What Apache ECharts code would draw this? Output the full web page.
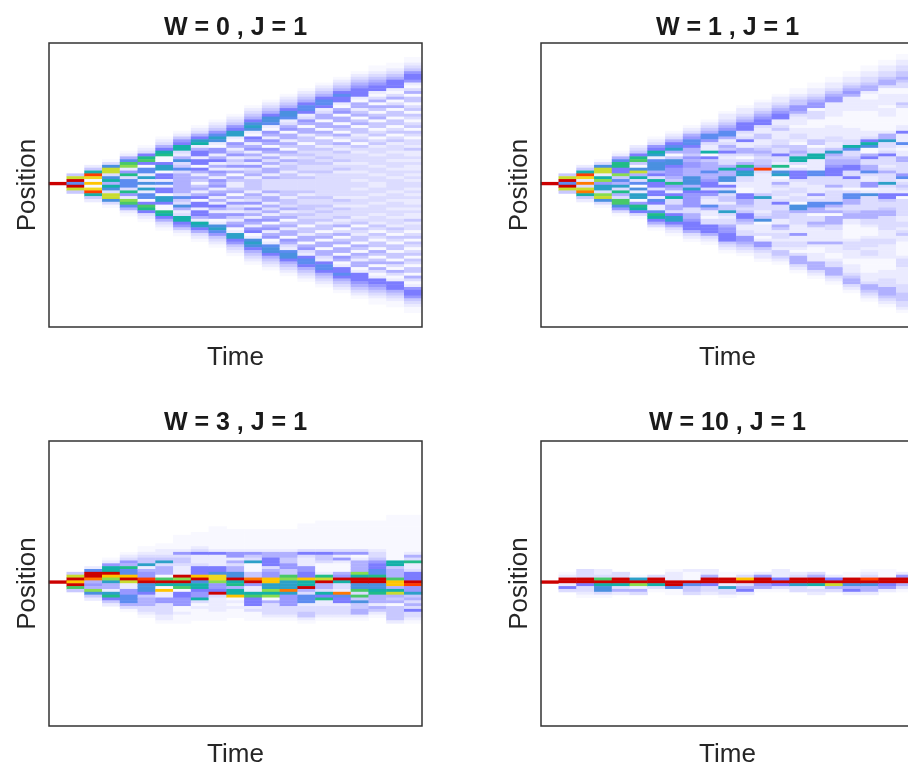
<!DOCTYPE html>
<html><head><meta charset="utf-8">
<script src="https://cdn.jsdelivr.net/npm/echarts@6/dist/echarts.min.js"></script>
<style>html,body{margin:0;padding:0;background:#fff}#c{width:908px;height:765px}</style></head>
<body><div id="c"></div>
<script>
// Each column (time step) reads "firstRow: intensity levels", top row of the panel first.
const W0 = [
"49:k",
"46:4fk8kf4",
"43:24bjg1h1gjb42",
"41:139ff39b5b93ff931",
"38:1258de26c38883c62ed8521",
"36:1237cd7188 2a2 9 2a2 88 17dc7321",
"33:12357bc11 7aa1 772 8 2771 aa7 11cb75321",
"31:124 67bb3 25934 83555 5 55538 43952 3bb76 421",
"29:1235 7ab2 5772 7717 5254 1 4525 7177 2775 2ba7 5321",
"27:1234 68a9 2166 2572 5265 26 5 62 5625 2752 6612 9a86 4321",
"25:123467aa21652462436 25154 22 45152 6342642561 2aa764321",
"22:12345 79a92 17625 62536 26345 24 44 42 54362 63526 52671 29a97 54321",
"20:123457998 21652 65165 25352 55253 33 35255 25352 56156 25612 899754321",
"18:123457998 23561 55254 15425 34424 43 33 34 42443 52451 45255 16532 899754321",
"16:123457887 23651 55244 14434 34433 4243 33 3424 33443 43441 44255 15632 788754321",
"14:123457887 23551 55154 14424 33434 33433 3 33 33343 34343 34244 14515 51553 2 788754321",
"12:123457877 21561 55154 15315 32433 42342 333 33 33324 32433 42351 35145 15516 512 778754321",
"10:123456777 21552 45145 14423 41432 33323 32332 33 23323 32333 23414 32441 54154 25512 777654321",
"8:112345677 21351 54145 14413 41342 33233 32332 33 22 33233 23332 33243 14314 41541 45153 12 776543211",
"7:112345777 21351 35144 14413 41342 33233 23323 323 33 32332 33233 23324 31431 44144 15315 312 777543211",
"5:112346776 21351 44134 14313 41431 33242 23232 23232 33 23232 23232 24233 13414 31341 43144 15312 677643211"
];
const W1 = [
"49:k",
"46:4fk8kf4",
"43:24bjg2i3fib42",
"41:139ff2be6aa3ef931",
"38:1258cc77e485a3c53dd9631",
"36:2347cd419f5b38 192aa16cb731",
"33:1 2 3 6 7 b a 2 8 9 9 9 5 7 3 b 7 7 3 7 7 2 8 7 2 2 8 c b 7 5 3 1",
"31:1 2 3 5 7 8 a 5 1 4 9 9 7 6 6 6 5 4 c 6 5 2 7 b 3 3 5 5 3 7 a a 7 5 3 2 1",
"29:1 2 3 5 6 8 8 7 5 5 4 6 5 6 6 5 5 5 9 9 9 5 a 7 6 6 6 6 6 3 3 5 5 6 7 7 7 5 3 2 1",
"27:1 2 3 4 5 8 8 6 3 2 2 b 1 7 4 5 5 5 8 5 5 6 7 7 3 7 6 3 2 2 8 5 2 2 1 3 3 7 7 7 5 3 2 1",
"24:1 2 2 3 4 5 6 8 8 5 2 3 5 4 7 3 2 3 3 5 b 5 5 9 9 2 7 3 9 3 4 4 2 4 4 a 3 2 3 3 5 6 6 7 7 7 4 3 2 1",
"22:1 2 2 3 4 5 7 7 7 3 2 3 7 2 2 5 5 3 1 3 5 c 7 a a 3 3 2 2 1 1 7 7 5 5 4 3 4 7 7 5 4 2 2 3 3 6 6 5 4 3 2 1",
"20:1 2 2 3 4 5 6 7 7 3 2 2 4 4 2 2 3 4 5 4 3 4 4 5 j 3 2 2 2 2 2 2 2 4 a 3 3 3 3 2 3 4 9 1 2 2 2 3 1 2 6 6 4 3 2 2 1",
"18:1 2 2 3 4 5 6 7 7 2 2 3 4 2 2 2 3 3 4 3 3 7 3 3 2 c 2 9 a 1 2 5 3 2 3 3 2 3 7 3 3 4 4 4 2 2 5 4 2 3 3 2 3 3 2 4 4 3 2 1",
"16:1 1 2 3 4 4 6 6 5 3 2 2 2 1 2 2 3 3 2 1 4 4 5 4 b b 3 1 3 7 7 7 3 2 2 3 3 2 3 3 1 9 9 5 3 3 3 3 2 2 2 6 2 2 3 3 2 1 3 5 5 5 3 2 1",
"14:1 1 2 2 3 4 5 6 6 1 3 3 3 1 1 1 2 2 2 2 4 4 1 3 3 b b 2 2 2 2 8 8 3 3 3 2 2 2 6 2 3 8 8 5 5 1 3 3 5 4 2 2 2 2 2 5 2 1 1 2 2 2 5 5 5 3 2 1",
"12:1 1 2 2 3 4 5 6 6 2 2 2 2 2 1 1 1 2 2 2 2 3 3 2 2 4 a 5 4 5 5 6 7 7 7 3 3 3 5 2 3 3 3 3 8 5 3 5 1 5 5 5 3 3 2 2 2 2 5 2 2 2 1 1 2 3 3 5 5 5 3 2 1",
"10:1 1 2 2 3 4 5 6 5 2 2 2 2 2 1 1 1 1 1 1 2 2 2 2 3 3 b 8 3 3 4 5 5 7 7 3 3 7 3 3 3 1 3 8 8 5 5 3 3 4 5 5 2 2 1 1 1 1 1 2 3 3 3 2 2 2 1 1 2 2 2 3 4 5 5 3 2 1",
"8:1 1 2 2 3 3 4 5 5 2 1 1 2 2 2 2 1 1 1 1 1 1 1 2 2 3 7 b 9 1 1 5 7 3 3 5 5 8 3 2 2 6 6 1 2 9 3 3 3 3 3 5 5 5 3 3 2 1 1 1 2 3 3 3 2 3 3 2 1 1 1 1 1 2 2 2 3 5 5 4 3 2 1",
"6:1 1 2 2 3 3 4 5 5 3 1 1 2 2 2 2 1 2 2 2 1 1 1 1 1 2 5 5 a 3 3 2 3 7 3 3 3 2 3 5 3 3 3 a 3 2 2 7 7 4 3 3 4 5 5 3 3 3 3 3 2 2 2 3 3 2 2 2 2 2 1 1 1 1 2 2 2 3 3 3 5 5 5 4 3 2 1",
"4:1 1 2 2 3 3 4 4 5 4 3 3 1 1 2 2 2 4 3 1 1 1 1 1 1 2 2 7 2 2 2 8 2 1 2 2 5 5 3 3 3 3 6 8 2 3 4 3 2 7 1 3 3 3 3 3 3 2 2 3 3 2 3 4 2 2 1 1 1 1 1 2 3 3 3 2 2 2 2 2 2 3 3 3 4 4 4 3 3 2 1"
];
const W3 = [
"49:k",
"46:4fkhkd4",
"44:28kki565e942",
"41:126bbkhea552ac742",
"39:12365c88hkf22668885 31",
"37:11234 4a256 6jk99 97455 53321",
"36:1122 34a3 555 1dkb 1h22 6633 3322 1",
"33:11111 26344 3222k ekbd1 77666 11211 1",
"32:11111 23722 2377 7hk9b b7 66b31 21111",
"30:11111111 27222 2779 gge66 7k322 2221 11",
"31:11111 11266 25355 99kbc 5bbh1 21211 1",
"31:11111 11 26 43 a1114 4ik6 22bd 7772 3111",
"31:11111 11 25 577 7356 6hh aaebe 1533 3321",
"31:11111 11 25 544 6644 dea aaia 66663 3321",
"29:11111 1111 3 7322 2667 7hbb k538 8823 3442 1",
"28:11111 11111 37 443 111 2cfk 553b 7c22 3332 1",
"28:11111 11111 36 262 111 56kb 332i 8772 3332 1",
"28:11111 11111 36 125 555 ebkk 99d3 d494 4552 1",
"28:11111 11111 23 346 7788 ckk9 9bc5 5525 421",
"26:11111 11111 11 1111 bb 455 5dhh 5bf5 4514 4444 2",
"26:11111 11111 111 25 3c2 2377 7kj6 6a45 3537 3321"
];
const W10 = [
"49:k",
"46:12kk273",
"45:333kk73321",
"45:223dkb9931",
"46:33kkb352",
"47:1ake253",
"47:3kkb31",
"45:1222kk811",
"45:2111k8443",
"45:225kk7332",
"46:11kk2a331",
"46:13hk3572",
"46:26kk651",
"45:2227k731",
"46:23kka33",
"46:35kkb232",
"47:27kf53",
"46:11kk9572",
"45:123jk9552",
"45:111kk762",
"46:26kk531"
];
const panelTitles = ["W = 0 , J = 1","W = 1 , J = 1","W = 3 , J = 1","W = 10 , J = 1"];
const timeSteps = Array.from({length:21},(_,i)=>i);
const positionRows = Array.from({length:100},(_,i)=>i);
const ramp = ["#ffffff","#f8f8ff","#ebebff","#dcdcff","#c8c8ff","#b0b0ff","#9898ff","#7c7cff","#5c8cf0","#4a90e0","#2ca0c8","#14b0a8","#20bc88","#48c868","#88dc50","#c8dc30","#f0d820","#ffc400","#ff7800","#ff3c00","#cc0000"];

function cells(cols){
  const out=[];
  cols.forEach((c,t)=>{
    const s=c.replace(/\s/g,"").split(":");
    const start=+s[0];
    [...s[1]].forEach((ch,i)=>{
      const v=parseInt(ch,21);
      if(v>0 && start+i<100) out.push([t,start+i,v]);
    });
  });
  return out;
}
const panels=[W0,W1,W3,W10];
const L=[49,541], T=[43,441], W=373, H=[284,285], TT=[16,411], XG=[18,16];
const font='"Liberation Sans",Arial,sans-serif';
const grids=[],xs=[],ys=[],series=[],titles=[];
panels.forEach((p,i)=>{
  const col=i%2,row=i>>1;
  grids.push({left:L[col],top:T[row],width:W,height:H[row],show:true,borderColor:'#333',borderWidth:1.5,backgroundColor:'transparent',z:5,outerBoundsMode:'none',containLabel:false});
  xs.push({type:'category',gridIndex:i,data:timeSteps,name:'Time',nameLocation:'middle',nameGap:XG[row],
    nameTextStyle:{fontFamily:font,fontSize:26,color:'#262626'},
    axisLine:{show:false},axisTick:{show:false},axisLabel:{show:false},splitLine:{show:false}});
  ys.push({type:'category',gridIndex:i,inverse:true,data:positionRows,name:'Position',nameLocation:'middle',nameGap:8,
    nameTextStyle:{fontFamily:font,fontSize:26,color:'#262626'},
    axisLine:{show:false},axisTick:{show:false},axisLabel:{show:false},splitLine:{show:false}});
  series.push({type:'heatmap',xAxisIndex:i,yAxisIndex:i,data:cells(p),progressive:0,animation:false,z:2,emphasis:{disabled:true}});
  titles.push({text:panelTitles[i],left:L[col]+W/2,top:TT[row],padding:0,textAlign:'center',
    textStyle:{fontFamily:font,fontSize:25,fontWeight:'bold',color:'#1a1a1a'}});
});
const chart=echarts.init(document.getElementById('c'),null,{renderer:'canvas'});
chart.setOption({animation:false,backgroundColor:'#fff',title:titles,grid:grids,xAxis:xs,yAxis:ys,series,
  tooltip:{show:false},
  visualMap:{show:false,type:'continuous',min:0,max:20,seriesIndex:[0,1,2,3],inRange:{color:ramp}}});
</script></body></html>
